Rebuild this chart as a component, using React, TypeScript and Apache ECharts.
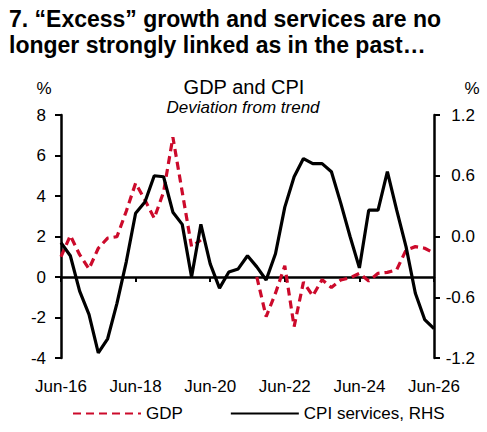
import React, { useEffect, useRef } from "react";
import * as echarts from "echarts";

const categories = [
  "Jun-16", "Sep-16", "Dec-16", "Mar-17", "Jun-17", "Sep-17", "Dec-17", "Mar-18",
  "Jun-18", "Sep-18", "Dec-18", "Mar-19", "Jun-19", "Sep-19", "Dec-19", "Mar-20",
  "Jun-20", "Sep-20", "Dec-20", "Mar-21", "Jun-21", "Sep-21", "Dec-21", "Mar-22",
  "Jun-22", "Sep-22", "Dec-22", "Mar-23", "Jun-23", "Sep-23", "Dec-23", "Mar-24",
  "Jun-24", "Sep-24", "Dec-24", "Mar-25", "Jun-25", "Sep-25", "Dec-25", "Mar-26",
  "Jun-26",
];

// GDP deviation from trend, % (left axis); gap around the pandemic
const gdp: (number | null)[] = [
  1.0, 2.05, 1.1, 0.4, 1.42, 1.92, 1.99, 3.25,
  4.63, 3.8, 2.9, 4.2, 6.9, 4.2, 1.5, 1.83,
  null, null, null, null, null, 0.0, -1.96, -0.8,
  0.55, -2.45, -0.25, -0.93, -0.13, -0.52, -0.15, -0.04,
  0.18, -0.2, 0.18, 0.23, 0.36, 1.33, 1.5, 1.42,
  1.18,
];

// CPI services deviation from trend, % (right axis)
const cpiServices: number[] = [
  -0.06, -0.19, -0.54, -0.77, -1.15, -1.01, -0.66, -0.25,
  0.23, 0.34, 0.6, 0.59, 0.24, 0.12, -0.4, 0.12,
  -0.27, -0.51, -0.35, -0.32, -0.19, -0.3, -0.43, -0.17,
  0.29, 0.59, 0.77, 0.72, 0.72, 0.64, 0.33, 0.0,
  -0.31, 0.26, 0.26, 0.64, 0.26, -0.1, -0.56, -0.82,
  -0.91,
];

const leftTicks = { min: -4, max: 8, interval: 2 };
const rightTicks = { min: -1.2, max: 1.2, interval: 0.6 };

const RED = "#cc0a2b";
const FONT = "'Liberation Sans', Arial, Helvetica, sans-serif";

export default function App() {
  const ref = useRef<HTMLDivElement>(null);

  useEffect(() => {
    if (!ref.current) return;
    const chart = echarts.init(ref.current, undefined, { renderer: "svg" });
    chart.setOption({
      animation: false,
      backgroundColor: "#ffffff",
      textStyle: { fontFamily: FONT, color: "#000" },
      title: {
        text: "7. “Excess” growth and services are no\nlonger strongly linked as in the past…",
        left: 9,
        top: 6,
        padding: 0,
        textStyle: {
          fontFamily: FONT,
          fontSize: 23,
          fontWeight: "bold",
          lineHeight: 26,
          color: "#000",
        },
      },
      graphic: [
        {
          type: "text",
          x: 244,
          y: 87,
          style: {
            text: "GDP and CPI",
            fontFamily: FONT,
            fontSize: 20,
            fill: "#000",
            align: "center",
            verticalAlign: "middle",
          },
        },
        {
          type: "text",
          x: 243,
          y: 107,
          style: {
            text: "Deviation from trend",
            fontFamily: FONT,
            fontSize: 17,
            fontStyle: "italic",
            fill: "#000",
            align: "center",
            verticalAlign: "middle",
          },
        },
        {
          type: "text",
          x: 44,
          y: 88,
          style: {
            text: "%",
            fontFamily: FONT,
            fontSize: 17,
            fill: "#000",
            align: "center",
            verticalAlign: "middle",
          },
        },
        {
          type: "text",
          x: 472,
          y: 88,
          style: {
            text: "%",
            fontFamily: FONT,
            fontSize: 17,
            fill: "#000",
            align: "center",
            verticalAlign: "middle",
          },
        },
      ],
      legend: {
        data: ["GDP", "CPI services, RHS"],
        left: 72,
        top: 405,
        padding: 0,
        itemWidth: 68,
        itemHeight: 14,
        itemGap: 47,
        itemStyle: { color: "rgba(0,0,0,0)", borderWidth: 0, opacity: 0 },
        textStyle: { fontFamily: FONT, fontSize: 17, color: "#000" },
      },
      grid: { left: 61, right: 53, top: 115, bottom: 74, containLabel: false },
      xAxis: [
        {
          type: "category",
          data: categories,
          boundaryGap: false,
          axisLine: {
            show: true,
            onZero: true,
            onZeroAxisIndex: 0,
            lineStyle: { color: "#000", width: 2.5 },
          },
          axisTick: { show: true, interval: 7, length: 5, lineStyle: { color: "#000", width: 2 } },
          axisLabel: { show: false },
          splitLine: { show: false },
        },
        {
          type: "category",
          data: categories,
          boundaryGap: false,
          position: "bottom",
          axisLine: { show: false, onZero: false },
          axisTick: { show: false },
          axisLabel: {
            show: true,
            interval: 7,
            margin: 20,
            fontSize: 17,
            fontFamily: FONT,
            color: "#000",
          },
          splitLine: { show: false },
        },
      ],
      yAxis: [
        {
          type: "value",
          position: "left",
          min: leftTicks.min,
          max: leftTicks.max,
          interval: leftTicks.interval,
          axisLine: { show: true, lineStyle: { color: "#000", width: 2.5 } },
          axisTick: { show: true, length: 6, lineStyle: { color: "#000", width: 2 } },
          axisLabel: { fontSize: 17, margin: 15, color: "#000", fontFamily: FONT },
          splitLine: { show: false },
        },
        {
          type: "value",
          position: "right",
          min: rightTicks.min,
          max: rightTicks.max,
          interval: rightTicks.interval,
          axisLine: { show: true, lineStyle: { color: "#000", width: 2.5 } },
          axisTick: { show: true, length: 6, lineStyle: { color: "#000", width: 2 } },
          axisLabel: {
            fontSize: 17,
            margin: 41,
            align: "right",
            color: "#000",
            fontFamily: FONT,
            formatter: (v: number) => (Math.abs(v) < 1e-9 ? "0.0" : v.toFixed(1)),
          },
          splitLine: { show: false },
        },
      ],
      series: [
        {
          name: "GDP",
          type: "line",
          xAxisIndex: 0,
          yAxisIndex: 0,
          data: gdp,
          symbol: "none",
          connectNulls: false,
          lineStyle: { color: RED, width: 3.2, type: [8, 5] },
          itemStyle: { color: RED },
          z: 2,
        },
        {
          name: "CPI services, RHS",
          type: "line",
          xAxisIndex: 0,
          yAxisIndex: 1,
          data: cpiServices,
          symbol: "none",
          lineStyle: { color: "#000", width: 3.2 },
          itemStyle: { color: "#000" },
          z: 3,
        },
      ],
    });
    return () => chart.dispose();
  }, []);

  return (
    <div
      ref={ref}
      style={{ position: "fixed", left: 0, top: 0, width: 487, height: 432, background: "#fff" }}
    />
  );
}
